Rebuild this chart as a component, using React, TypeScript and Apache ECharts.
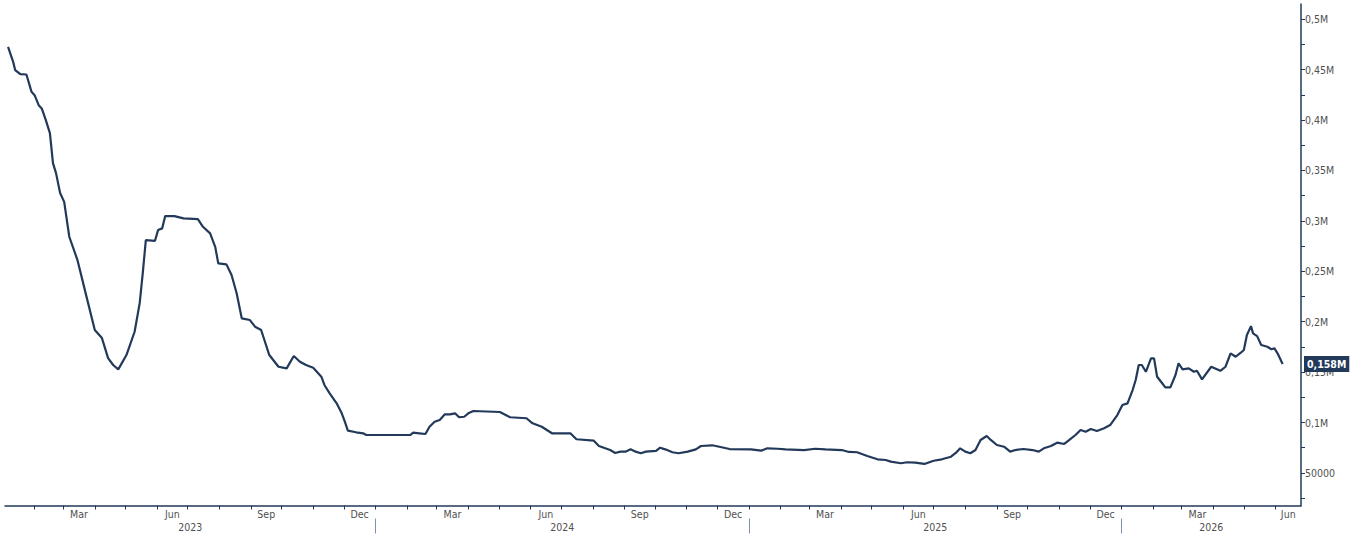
import React, { useEffect, useRef } from "react";
import * as echarts from "echarts";

const dates: string[] = [
  "2023-01-06","2023-01-11","2023-01-13","2023-01-18","2023-01-24","2023-01-29","2023-02-01","2023-02-05","2023-02-08","2023-02-12",
  "2023-02-16","2023-02-19","2023-02-22","2023-02-26","2023-03-02","2023-03-07","2023-03-15","2023-03-23","2023-04-01","2023-04-08",
  "2023-04-14","2023-04-19","2023-04-24","2023-05-02","2023-05-10","2023-05-15","2023-05-18","2023-05-21","2023-05-30","2023-06-02",
  "2023-06-06","2023-06-09","2023-06-18","2023-06-27","2023-07-11","2023-07-16","2023-07-23","2023-07-28","2023-07-31","2023-08-08",
  "2023-08-13","2023-08-18","2023-08-23","2023-08-31","2023-09-05","2023-09-11","2023-09-19","2023-09-28","2023-10-06","2023-10-13",
  "2023-10-19","2023-10-25","2023-11-01","2023-11-09","2023-11-12","2023-11-17","2023-11-24","2023-11-29","2023-12-02","2023-12-05",
  "2023-12-13","2023-12-20","2023-12-23","2024-02-04","2024-02-07","2024-02-13","2024-02-19","2024-02-23","2024-02-28","2024-03-04",
  "2024-03-09","2024-03-14","2024-03-19","2024-03-23","2024-03-28","2024-04-01","2024-04-06","2024-05-02","2024-05-12","2024-05-28",
  "2024-06-03","2024-06-12","2024-06-22","2024-07-10","2024-07-16","2024-08-02","2024-08-07","2024-08-18","2024-08-23","2024-08-28",
  "2024-09-02","2024-09-07","2024-09-12","2024-09-17","2024-09-22","2024-10-02","2024-10-06","2024-10-11","2024-10-18","2024-10-24",
  "2024-11-02","2024-11-10","2024-11-15","2024-11-26","2024-12-03","2024-12-13","2025-01-03","2025-01-13","2025-01-19","2025-01-29",
  "2025-02-06","2025-02-24","2025-03-07","2025-03-17","2025-04-02","2025-04-09","2025-04-17","2025-04-27","2025-05-07","2025-05-15",
  "2025-05-20","2025-05-30","2025-06-05","2025-06-13","2025-06-22","2025-07-01","2025-07-09","2025-07-18","2025-07-23","2025-07-27",
  "2025-08-01","2025-08-06","2025-08-11","2025-08-16","2025-08-22","2025-08-26","2025-09-01","2025-09-08","2025-09-14","2025-09-19",
  "2025-09-27","2025-10-06","2025-10-12","2025-10-17","2025-10-24","2025-10-30","2025-11-06","2025-11-11","2025-11-17","2025-11-22",
  "2025-11-27","2025-12-02","2025-12-08","2025-12-15","2025-12-21","2025-12-28","2026-01-02","2026-01-07","2026-01-12","2026-01-15",
  "2026-01-18","2026-01-21","2026-01-25","2026-01-30","2026-02-02","2026-02-05","2026-02-10","2026-02-13","2026-02-18","2026-02-23",
  "2026-02-26","2026-03-02","2026-03-08","2026-03-13","2026-03-16","2026-03-21","2026-03-30","2026-04-08","2026-04-13","2026-04-18",
  "2026-04-23","2026-04-28","2026-05-01","2026-05-04","2026-05-08","2026-05-10","2026-05-14","2026-05-18","2026-05-24","2026-05-28",
  "2026-05-31","2026-06-03","2026-06-08",
];

const values: number[] = [
  472500,457600,449400,445400,445100,427900,424600,414700,411400,399800,
  386900,357200,347300,327500,318800,284200,261100,228300,191700,183700,
  163900,157000,152700,166900,190000,218400,248200,280900,280200,290800,
  292500,304700,304700,302400,301700,294100,287500,274200,257800,256800,
  246200,228100,203300,201600,195000,191700,166900,155300,153700,165900,
  160300,157000,154300,145400,137200,129200,119000,109100,100800,91900,
  90300,89300,87600,87600,89900,89300,88600,95800,100800,102500,
  108100,108100,109100,105200,105700,109100,111400,110400,105200,104200,
  99200,95800,89300,89300,83400,82000,76700,72700,69800,71100,
  71100,73400,71100,69500,71100,71800,75000,73400,70500,69500,
  71100,73400,76700,77400,76000,73700,73400,72100,74400,74000,
  73400,72700,74000,73400,72700,70800,70500,66800,63500,62800,
  61200,59600,60600,60200,58900,62100,63500,66100,70100,74400,
  71100,69500,72700,82700,86600,82700,77700,76000,71100,72700,
  73700,72700,71100,74400,76700,80000,78700,82700,87600,92600,
  90900,93600,91600,94300,97500,107400,117300,119000,132200,142100,
  157000,157000,150300,163600,163600,145400,138900,134900,134900,147100,
  158700,152700,153700,150300,151300,142800,155300,151300,155300,168600,
  165200,169200,171900,186700,195600,188400,185700,176800,175100,172600,
  173500,168600,158000,
];

const lastValue = 158000;
const lastLabel = "0,158M";
const monthNames = ["Jan","Feb","Mar","Apr","May","Jun","Jul","Aug","Sep","Oct","Nov","Dec"];
const labelledMonths = [2, 5, 8, 11];
const years = [2023, 2024, 2025, 2026];
const yLabelValues = [50000, 100000, 150000, 200000, 250000, 300000, 350000, 400000, 450000, 500000];
const axisMin = "2023-01-03";
const axisMax = "2026-06-26";
const yMin = 17700;
const yMax = 515000;

const NAVY = "#22395a";
const TEXT = "#505050";
const FONT = '"Liberation Sans Narrow", "DejaVu Sans Condensed", "Liberation Sans", sans-serif';

function ts(s: string): number {
  const [y, m, d] = s.split("-").map(Number);
  return new Date(y, m - 1, d).getTime();
}

export default function App() {
  const ref = useRef<HTMLDivElement>(null);

  useEffect(() => {
    if (!ref.current) return;
    const chart = echarts.init(ref.current, undefined, { renderer: "svg" });
    const xmin = ts(axisMin);
    const xmax = ts(axisMax);

    const monthTicks: number[] = [];
    const monthLabelPos: number[] = [];
    for (let y = 2023; y <= 2026; y++) {
      for (let m = 0; m < 12; m++) {
        const start = new Date(y, m, 1).getTime();
        const next = new Date(y, m + 1, 1).getTime();
        if (start > xmin && start <= xmax) monthTicks.push(start);
        if (labelledMonths.includes(m)) {
          const a = Math.max(start, xmin);
          const b = Math.min(next, xmax);
          if (b > a) monthLabelPos.push(Math.round((a + b) / 2));
        }
      }
    }
    const yearTicks: number[] = [];
    const yearLabelPos: number[] = [];
    years.forEach((y) => {
      const start = new Date(y, 0, 1).getTime();
      const end = new Date(y + 1, 0, 1).getTime();
      if (start > xmin && start < xmax) yearTicks.push(start);
      const a = Math.max(start, xmin);
      const b = Math.min(end, xmax);
      if (b > a) yearLabelPos.push(Math.round((a + b) / 2));
    });
    const yTicks: number[] = [];
    yLabelValues.forEach((v) => {
      yTicks.push(v - 25000);
      yTicks.push(v);
    });

    const data = dates.map((d, i) => [ts(d), values[i]]);

    chart.setOption({
      animation: false,
      backgroundColor: "#ffffff",
      grid: { left: 5, right: 58, top: 4, bottom: 31.5, containLabel: false, outerBoundsMode: "none" },
      xAxis: [
        {
          type: "value",
          min: xmin,
          max: xmax,
          position: "bottom",
          axisLine: { show: true, lineStyle: { color: NAVY, width: 1.5 } },
          axisTick: { show: true, customValues: monthTicks, length: 4, lineStyle: { color: NAVY, width: 1 } },
          axisLabel: {
            show: true,
            customValues: monthLabelPos,
            formatter: (v: number) => monthNames[new Date(v).getMonth()],
            margin: 3,
            fontSize: 10.5,
            color: TEXT,
            fontFamily: FONT,
          },
          splitLine: { show: false },
        },
        {
          type: "value",
          min: xmin,
          max: xmax,
          position: "bottom",
          offset: 13,
          axisLine: { show: false },
          axisTick: { show: true, customValues: yearTicks, length: 15, lineStyle: { color: "#8090a6", width: 1 } },
          axisLabel: {
            show: true,
            customValues: yearLabelPos,
            formatter: (v: number) => String(new Date(v).getFullYear()),
            margin: 3,
            fontSize: 10.5,
            color: TEXT,
            fontFamily: FONT,
          },
          splitLine: { show: false },
        },
      ],
      yAxis: {
        type: "value",
        position: "right",
        min: yMin,
        max: yMax,
        axisLine: { show: true, lineStyle: { color: NAVY, width: 1.5 } },
        axisTick: { show: true, customValues: yTicks, length: 4, lineStyle: { color: NAVY, width: 1 } },
        axisLabel: {
          show: true,
          customValues: yLabelValues,
          margin: 4,
          fontSize: 10.5,
          color: TEXT,
          fontFamily: FONT,
          formatter: (v: number) => (v < 100000 ? String(v) : (v / 1e6).toString().replace(".", ",") + "M"),
        },
        splitLine: { show: false },
      },
      series: [
        {
          type: "line",
          xAxisIndex: 0,
          data,
          showSymbol: false,
          symbol: "none",
          lineStyle: { color: NAVY, width: 2.2 },
          markLine: {
            silent: true,
            symbol: ["none", "none"],
            lineStyle: { color: "rgba(0,0,0,0)", width: 1, type: "solid" },
            data: [{ yAxis: lastValue }],
            label: {
              show: true,
              position: "end",
              distance: 3,
              formatter: lastLabel,
              backgroundColor: NAVY,
              color: "#ffffff",
              fontWeight: "bold",
              fontSize: 10.5,
              fontFamily: FONT,
              padding: [3, 3, 2, 3],
            },
          },
        },
      ],
    });

    return () => chart.dispose();
  }, []);

  return (
    <div
      ref={ref}
      style={{ position: "absolute", left: 0, top: 0, width: 1359, height: 537 }}
    />
  );
}
